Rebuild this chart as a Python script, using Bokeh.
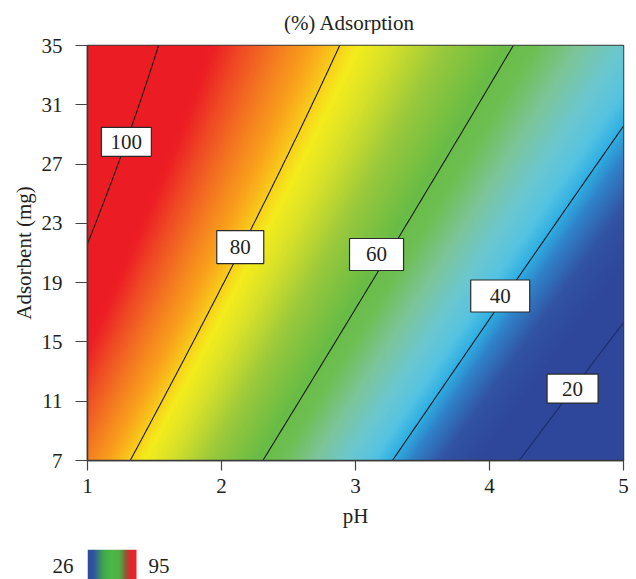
import numpy as np
from bokeh.plotting import figure
from bokeh.models import Range1d, FixedTicker, LinearColorMapper, ColumnDataSource, LinearAxis
from bokeh.layouts import column
from bokeh.embed import file_html
from bokeh.resources import INLINE
from bokeh.core.properties import value

# ---- data ----
# points where each contour line crosses the plot edges / passes label boxes
ph_read = [1.32, 2.31, 3.28, 4.22, 1.53, 2.88, 4.19, 1.00, 5.00, 5.00, 3.25, 2.09, 4.04, 4.52, 1.25]
mg_read = [7.0, 7.0, 7.0, 7.0, 35.0, 35.0, 35.0, 21.7, 29.8, 16.0, 20.97, 20.3, 17.07, 10.82, 27.51]
level_read = [80, 60, 40, 20, 100, 80, 60, 100, 40, 20, 60, 80, 40, 20, 100]

contour_levels = [20, 40, 60, 80, 100]
label_text = ["100", "80", "60", "40", "20"]
label_ph = [1.29, 2.14, 3.157, 4.08, 4.62]
label_mg = [28.5, 21.4, 20.9, 18.1, 11.85]

x_ticks = [1, 2, 3, 4, 5]
y_ticks = [7, 11, 15, 19, 23, 27, 31, 35]
legend_low, legend_high = 26, 95
chart_title = "(%) Adsorption"

# ---- response surface (quadratic fit through the read contour points) ----
ph = np.array(ph_read); mg = np.array(mg_read); lv = np.array(level_read, float)
A = np.column_stack([np.ones_like(ph), ph, mg, ph * mg, ph ** 2, mg ** 2])
coef, *_ = np.linalg.lstsq(A, lv, rcond=None)

xs = np.linspace(1, 5, 401)
ys = np.linspace(7, 35, 281)
XX, YY = np.meshgrid(xs, ys)
Z = (coef[0] + coef[1] * XX + coef[2] * YY + coef[3] * XX * YY
     + coef[4] * XX ** 2 + coef[5] * YY ** 2)

# ---- colour maps ----
def hex2rgb(h):
    h = h.lstrip("#")
    return np.array([int(h[i:i + 2], 16) for i in (0, 2, 4)], float)

def build_palette(stop_v, stop_c, lo, hi, n=256):
    rgb = np.array([hex2rgb(c) for c in stop_c])
    vals = np.linspace(lo, hi, n)
    out = []
    for v in vals:
        r = np.interp(v, stop_v, rgb[:, 0]); g = np.interp(v, stop_v, rgb[:, 1]); b = np.interp(v, stop_v, rgb[:, 2])
        out.append("#%02x%02x%02x" % (int(round(r)), int(round(g)), int(round(b))))
    return out

field_stops_v = [26, 32, 37, 40, 43, 47, 52, 57, 61, 68, 74, 78, 80, 83, 87, 91, 94, 95]
field_stops_c = ["#2e479a", "#3152a2", "#2f82c8", "#2eafe3", "#55c3e2", "#6bc7cf", "#7cc59a",
                 "#6fbf55", "#68bc45", "#98c83c", "#d5e02a", "#f4ec1c", "#f8d11a", "#f9a51b",
                 "#f47a20", "#ef4a24", "#ec2024", "#ec1c24"]
field_palette = build_palette(field_stops_v, field_stops_c, legend_low, legend_high)

legend_stops_v = [0.0, 0.12, 0.32, 0.5, 0.66, 0.78, 0.88, 1.0]
legend_stops_c = ["#2c4a9c", "#2f55a0", "#3ea84c", "#4db848", "#50ae46", "#8c5a35", "#e2262b", "#e8262a"]
legend_palette = build_palette(legend_stops_v, legend_stops_c, 0.0, 1.0)

SERIF = "Liberation Serif"
TXT = "#231f20"
FS = "21px"

def bare_strip(h):
    f = figure(width=636, height=h, x_range=Range1d(87, 623), y_range=Range1d(0, h),
               output_backend="svg", toolbar_location=None, min_border=0,
               x_axis_type=None, y_axis_type=None)
    f.outline_line_color = None
    f.xgrid.grid_line_color = None
    f.ygrid.grid_line_color = None
    return f

# ---- title strip (frame aligned with main frame: 87..623 px) ----
top = bare_strip(34)
top.text(x=[349], y=[12], text=[chart_title], text_align="center", text_baseline="middle",
         text_font=value(SERIF), text_font_size=FS, text_color=TXT)

# ---- main figure ----
p = figure(width=636, height=515, x_range=Range1d(1, 5), y_range=Range1d(7, 35),
           output_backend="svg", toolbar_location=None, title=None,
           min_border_left=87, min_border_right=13, min_border_top=11, min_border_bottom=89)

mapper = LinearColorMapper(palette=field_palette, low=legend_low, high=legend_high)
p.image(image=[Z], x=1, y=7, dw=4, dh=28, color_mapper=mapper)

p.contour(xs, ys, Z, levels=contour_levels,
          line_color=["#1d2b6b", "#1a1a1a", "#1a1a1a", "#1a1a1a", "#1a1a1a"], line_width=1.1)

lab_src = ColumnDataSource(dict(x=label_ph, y=label_mg, t=label_text,
                                w=[50, 47, 54, 59, 51], h=[29, 33, 32, 32, 29]))
p.rect(x="x", y="y", width="w", height="h", width_units="screen", height_units="screen",
       source=lab_src, fill_color="white", line_color="#2a2a2a", line_width=1.2)
p.text(x="x", y="y", text="t", source=lab_src, text_align="center", text_baseline="middle",
       text_font=value(SERIF), text_font_size=FS, text_color=TXT)

p.xaxis.axis_label = "pH"
p.yaxis.axis_label = "Adsorbent (mg)"
p.xaxis.ticker = FixedTicker(ticks=x_ticks)
p.yaxis.ticker = FixedTicker(ticks=y_ticks)
for ax in (p.xaxis, p.yaxis):
    ax.axis_label_text_font = SERIF
    ax.axis_label_text_font_size = FS
    ax.axis_label_text_font_style = "normal"
    ax.axis_label_text_color = TXT
    ax.major_label_text_font = SERIF
    ax.major_label_text_font_size = FS
    ax.major_label_text_color = TXT
    ax.minor_tick_line_color = None
    ax.major_tick_in = 0
    ax.major_tick_line_color = "#444444"
    ax.major_tick_line_width = 1.2
    ax.axis_line_color = "#3a3a3a"
    ax.axis_line_width = 1.5
p.xaxis.major_tick_out = 10
p.yaxis.major_tick_out = 12
p.xaxis.major_label_standoff = 8
p.yaxis.major_label_standoff = 13
p.xaxis.axis_label_standoff = 8
p.yaxis.axis_label_standoff = 3
p.xgrid.grid_line_color = None
p.ygrid.grid_line_color = None
p.outline_line_color = "#3a3a3a"
p.outline_line_width = 1.5
p.background_fill_color = "white"
p.border_fill_color = "white"

# ---- colour legend strip ----
lg = bare_strip(30)
lg_mapper = LinearColorMapper(palette=legend_palette, low=0, high=1)
lg.image(image=[np.linspace(0, 1, 120)[None, :]], x=87, y=0, dw=49, dh=30, color_mapper=lg_mapper)

# low end value shown as the label of a bare left axis (outside the frame)
low_axis = LinearAxis(ticker=FixedTicker(ticks=[14]), major_label_overrides={14: str(legend_low)})
low_axis.axis_line_color = None
low_axis.major_tick_line_color = None
low_axis.minor_tick_line_color = None
low_axis.major_tick_out = 0
low_axis.major_tick_in = 0
low_axis.major_label_standoff = 14
low_axis.major_label_text_font = SERIF
low_axis.major_label_text_font_size = FS
low_axis.major_label_text_color = TXT
lg.add_layout(low_axis, "left")

lg.text(x=[148], y=[14], text=[str(legend_high)], text_align="left", text_baseline="middle",
        text_font=value(SERIF), text_font_size=FS, text_color=TXT)

layout = column(top, p, lg, spacing=0)
open("out.html", "w").write(file_html(layout, INLINE))
